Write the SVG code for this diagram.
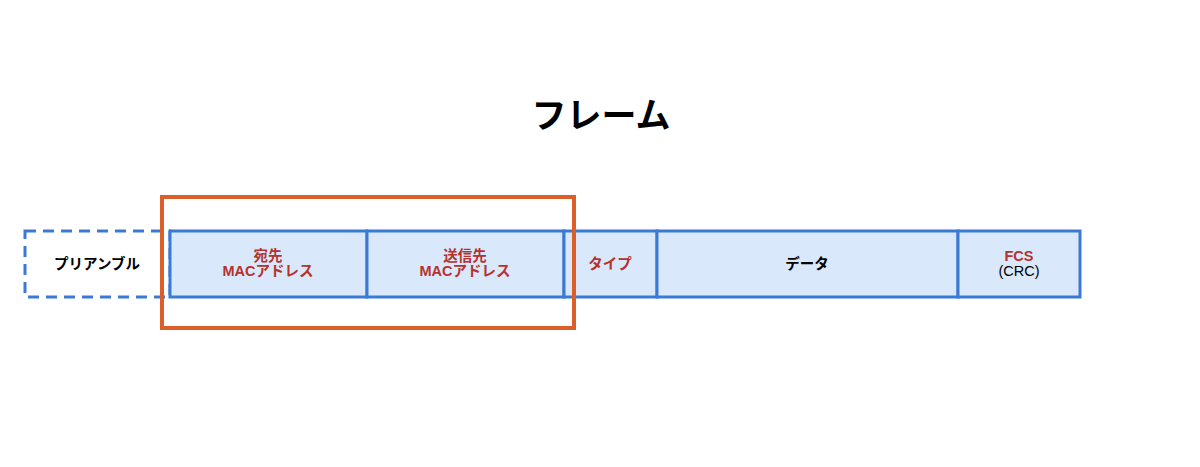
<svg xmlns="http://www.w3.org/2000/svg" width="1200" height="467" viewBox="0 0 1200 467">
<style>
.cell{fill:#dae8fc;stroke:#3a7ad4;stroke-width:3}
.dash{fill:#ffffff;stroke:#3a7ad4;stroke-width:3;stroke-dasharray:11 7}
.t{font-family:"Liberation Sans","Noto Sans CJK JP",sans-serif;font-size:14.5px;text-anchor:middle}
.r{fill:#b5322d;font-weight:bold}
.b{fill:#000000;font-weight:bold}
.n{fill:#000000}
.title{font-family:"Liberation Sans","Noto Sans CJK JP",sans-serif;font-size:35px;font-weight:bold;text-anchor:middle;fill:#000}
</style>
<rect width="1200" height="467" fill="#ffffff"/>
<text class="title" x="601" y="128">フレーム</text>
<g id="preamble">
<rect class="dash" x="25" y="231" width="145" height="66"/>
<text class="t b" x="97" y="269">プリアンブル</text>
</g>
<g id="dst">
<rect class="cell" x="170" y="231" width="197" height="66"/>
<text class="t r" x="268" y="261">宛先</text>
<text class="t r" x="268" y="276">MACアドレス</text>
</g>
<g id="src">
<rect class="cell" x="367" y="231" width="197" height="66"/>
<text class="t r" x="465" y="261">送信先</text>
<text class="t r" x="465" y="276">MACアドレス</text>
</g>
<g id="type">
<rect class="cell" x="564" y="231" width="93" height="66"/>
<text class="t r" x="610" y="269">タイプ</text>
</g>
<g id="data">
<rect class="cell" x="657" y="231" width="301" height="66"/>
<text class="t b" x="807" y="269">データ</text>
</g>
<g id="fcs">
<rect class="cell" x="958" y="231" width="122" height="66"/>
<text class="t r" x="1019" y="261">FCS</text>
<text class="t n" x="1019" y="276">(CRC)</text>
</g>
<g id="highlight">
<rect x="162" y="197" width="412" height="131" fill="none" stroke="#dc5f2a" stroke-width="4"/>
</g>
<g id="connectors"></g>
</svg>
